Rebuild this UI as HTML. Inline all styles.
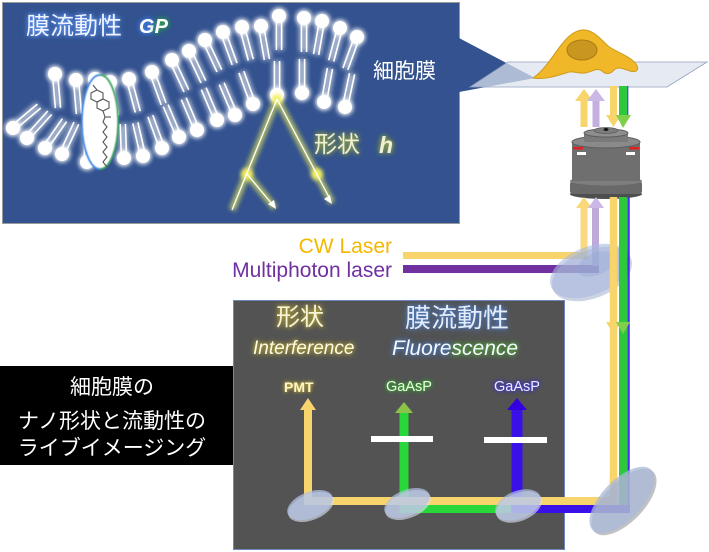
<!DOCTYPE html>
<html><head><meta charset="utf-8">
<style>
html,body{margin:0;padding:0;background:#fff;}
#c{position:relative;width:709px;height:552px;overflow:hidden;background:#fff;font-family:"Liberation Sans","Noto Sans CJK JP",sans-serif;}
svg{position:absolute;left:0;top:0;}
.t{position:absolute;white-space:nowrap;line-height:1;}
</style></head><body>
<div id="c">
<svg width="709" height="552" viewBox="0 0 709 552">
<defs>
<filter id="glow" x="-50%" y="-50%" width="200%" height="200%">
<feGaussianBlur in="SourceGraphic" stdDeviation="2.6" result="b"/>
<feMerge><feMergeNode in="b"/><feMergeNode in="b"/><feMergeNode in="SourceGraphic"/></feMerge>
</filter>
<filter id="soft" x="-50%" y="-50%" width="200%" height="200%">
<feGaussianBlur stdDeviation="2"/>
</filter>
<filter id="sb" x="-20%" y="-20%" width="140%" height="140%">
<feGaussianBlur stdDeviation="0.6"/>
</filter>
<g id="lp">
<line x1="-2.6" y1="5" x2="-2.6" y2="34" stroke="#fff" stroke-width="1.6"/>
<line x1="2.6" y1="5" x2="2.6" y2="34" stroke="#fff" stroke-width="1.6"/>
<circle r="7" fill="#fff"/>
</g>
</defs>

<!-- blue panel -->
<rect x="2.5" y="2.5" width="457" height="221" fill="#33528f" stroke="#9a9a9a" stroke-width="1"/>
<polygon points="459,38 535,78 459,92" fill="#33528f"/>

<!-- lipids -->
<g filter="url(#glow)">
<use href="#lp" transform="translate(55,74) rotate(-5)"/>
<use href="#lp" transform="translate(76,80) rotate(-5)"/>
<use href="#lp" transform="translate(95,79) rotate(-5)"/>
<use href="#lp" transform="translate(110,82) rotate(-10)"/>
<use href="#lp" transform="translate(129,79) rotate(-15)"/>
<use href="#lp" transform="translate(152,72) rotate(-20)"/>
<use href="#lp" transform="translate(172,60) rotate(-25)"/>
<use href="#lp" transform="translate(189,51) rotate(-25)"/>
<use href="#lp" transform="translate(205,40) rotate(-25)"/>
<use href="#lp" transform="translate(223,32) rotate(-20)"/>
<use href="#lp" transform="translate(242,27) rotate(-15)"/>
<use href="#lp" transform="translate(261,26) rotate(-10)"/>
<use href="#lp" transform="translate(279,16) rotate(0)"/>
<use href="#lp" transform="translate(304,18) rotate(0)"/>
<use href="#lp" transform="translate(322,21) rotate(10)"/>
<use href="#lp" transform="translate(340,28) rotate(15)"/>
<use href="#lp" transform="translate(357,37) rotate(20)"/>

<use href="#lp" transform="translate(13,128) rotate(-130)"/>
<use href="#lp" transform="translate(27,138) rotate(-138)"/>
<use href="#lp" transform="translate(45,148) rotate(-145)"/>
<use href="#lp" transform="translate(62,154) rotate(-155)"/>
<use href="#lp" transform="translate(87,162) rotate(180)"/>
<use href="#lp" transform="translate(124,158) rotate(178)"/>
<use href="#lp" transform="translate(143,156) rotate(167)"/>
<use href="#lp" transform="translate(162,148) rotate(160)"/>
<use href="#lp" transform="translate(179,137) rotate(157)"/>
<use href="#lp" transform="translate(197,130) rotate(157)"/>
<use href="#lp" transform="translate(217,120) rotate(157)"/>
<use href="#lp" transform="translate(235,115) rotate(157)"/>
<use href="#lp" transform="translate(253,104) rotate(160)"/>
<use href="#lp" transform="translate(277,95) rotate(180)"/>
<use href="#lp" transform="translate(302,93) rotate(180)"/>
<use href="#lp" transform="translate(324,102) rotate(190)"/>
<use href="#lp" transform="translate(345,107) rotate(192)"/>
</g>

<!-- probe ellipse -->
<g filter="url(#sb)">
<ellipse cx="100" cy="122" rx="18" ry="47" fill="#fff"/>
<path d="M100,75 A18,47 0 0 0 100,169" fill="none" stroke="#3f8fe8" stroke-width="2"/>
<path d="M100,75 A18,47 0 0 1 100,169" fill="none" stroke="#3aa860" stroke-width="2"/>
</g>
<g stroke="#555" stroke-width="1.1" fill="none">
<polygon points="97,90 103,93 103,99 97,102 91,99 91,93"/>
<polygon points="103,99 109,102 109,108 103,111 97,108 97,102"/>
<line x1="97" y1="90" x2="93" y2="85"/>
<line x1="103" y1="111" x2="105" y2="117"/>
<line x1="105" y1="117" x2="111" y2="117"/>
<polyline points="105,117 103,122 107,127 103,132 107,137 103,142 107,147 103,152 107,157 103,162 107,167"/>
</g>

<!-- horizontal substrate line -->
<line x1="8" y1="174" x2="435" y2="174" stroke="#fff" stroke-width="3.5" filter="url(#sb)"/>

<!-- interference rays -->
<g filter="url(#soft)" stroke="#dfe35a" stroke-width="7" opacity="0.7" fill="none">
<line x1="277" y1="99" x2="232" y2="210"/>
<line x1="277" y1="99" x2="332" y2="203"/>
<line x1="247" y1="174" x2="275" y2="208"/>
</g>
<circle cx="247" cy="174" r="6" fill="#f4f060" filter="url(#soft)"/>
<circle cx="317" cy="174" r="6" fill="#f4f060" filter="url(#soft)"/>
<circle cx="277" cy="99" r="5" fill="#f4f060" filter="url(#soft)"/>
<g stroke="#fff" stroke-width="1.3" fill="none">
<line x1="277" y1="99" x2="232" y2="210"/>
<line x1="277" y1="99" x2="330" y2="199"/>
<line x1="247" y1="174" x2="272" y2="204"/>
</g>
<polygon points="332,204 324,199 330,195" fill="#fff"/>
<polygon points="276,209 268,204 274,200" fill="#fff"/>

<!-- plane -->
<polygon points="508,62 707,62 667,87 470,87" fill="#dde3ee" fill-opacity="0.72" stroke="#90a0bf" stroke-width="0.8"/>
<!-- cell -->
<path d="M533,78 C545,70 553,55 562,44 C568,36 574,31 582,30 C592,29 600,38 608,46 C618,53 630,56 636,64 C640,70 636,73 630,71 C624,69 618,66 614,70 C611,74 606,75 602,71 C597,67 592,72 585,73 C578,74 572,70 566,73 C556,76 545,80 533,78 Z" fill="#f0b828" stroke="#cf9a1c" stroke-width="1"/>
<ellipse cx="582" cy="50" rx="15" ry="10" fill="#c99620" stroke="#a67a14" stroke-width="1"/>

<!-- beams above objective -->
<line x1="584" y1="127" x2="584" y2="100" stroke="#f8d46c" stroke-width="7"/>
<polygon points="575,101 593,101 584,89" fill="#f8d46c"/>
<line x1="596" y1="127" x2="596" y2="100" stroke="#c5afe0" stroke-width="7"/>
<polygon points="587,101 605,101 596,89" fill="#cbb8e6"/>
<line x1="613.5" y1="86" x2="613.5" y2="116" stroke="#f8d46c" stroke-width="7"/>
<line x1="623" y1="86" x2="623" y2="116" stroke="#2ec83c" stroke-width="8"/>
<line x1="627.7" y1="86" x2="627.7" y2="116" stroke="#5050e8" stroke-width="1.4"/>
<polygon points="606,115 621,115 613.5,127" fill="#f8d46c"/>
<polygon points="616,115 631,115 623,128" fill="#7fcf4a"/>

<!-- objective -->
<ellipse cx="606" cy="194" rx="36" ry="5" fill="#4e4e4e"/>
<rect x="570" y="181" width="72" height="13" rx="3" fill="#696969"/>
<ellipse cx="606" cy="181" rx="36" ry="4.5" fill="#7e7e7e"/>
<rect x="572" y="142" width="68" height="39" fill="#6f6f6f"/>
<ellipse cx="606" cy="142" rx="34" ry="6" fill="#8a8a8a" stroke="#5c5c5c" stroke-width="1"/>
<rect x="584" y="133" width="44" height="9" fill="#7a7a7a"/>
<ellipse cx="606" cy="133" rx="22" ry="4" fill="#8e8e8e" stroke="#5c5c5c" stroke-width="1"/>
<ellipse cx="606" cy="130.5" rx="12" ry="3" fill="#7c7c7c" stroke="#5e5e5e" stroke-width="0.8"/>
<ellipse cx="606" cy="129.5" rx="2.5" ry="1.5" fill="#111"/>
<rect x="573" y="147" width="10" height="2.5" fill="#e02020"/>
<rect x="629" y="147" width="10" height="2.5" fill="#e02020"/>
<rect x="577" y="152" width="9" height="3" fill="#fff"/>
<rect x="626" y="152" width="9" height="3" fill="#fff"/>

<!-- dark panel -->
<rect x="233.5" y="300.5" width="331" height="249" fill="#535353" stroke="#6f86b8" stroke-width="1"/>
<!-- black box -->
<rect x="0" y="366" width="233" height="99" fill="#000"/>

<!-- excitation lasers -->
<line x1="403" y1="255.5" x2="587" y2="255.5" stroke="#f8d46c" stroke-width="7"/>
<line x1="584" y1="258" x2="584" y2="208" stroke="#f8d46c" stroke-width="7" opacity="0.85"/>
<polygon points="576,208 592,208 584,197" fill="#f8d46c" opacity="0.9"/>
<line x1="403" y1="269" x2="599" y2="269" stroke="#7030a0" stroke-width="8"/>
<line x1="595.5" y1="266" x2="595.5" y2="208" stroke="#b9a0d8" stroke-width="7" opacity="0.9"/>
<polygon points="588,208 604,208 596,197" fill="#cbb8e6"/>
<!-- upper mirror -->
<ellipse cx="592" cy="274" rx="42" ry="24" transform="rotate(-22 592 274)" fill="#9aa8c8" opacity="0.5"/>
<ellipse cx="590" cy="271" rx="42" ry="24" transform="rotate(-22 590 271)" fill="#a9b9de" opacity="0.6"/>
<ellipse cx="596" cy="264" rx="20" ry="11" transform="rotate(-22 596 264)" fill="#8fa2d0" opacity="0.35"/>

<!-- emission down beams -->
<line x1="628.5" y1="197" x2="628.5" y2="509" stroke="#4a2cf0" stroke-width="2.5"/>
<line x1="623" y1="197" x2="623" y2="509" stroke="#2ec83c" stroke-width="8"/>
<line x1="613.5" y1="197" x2="613.5" y2="505" stroke="#f8d46c" stroke-width="7.5"/>
<polygon points="606,322 621,322 613.5,334" fill="#f8d46c"/>
<polygon points="616,322 630,322 623,334" fill="#7fcf4a"/>

<!-- detection paths -->
<line x1="511" y1="509" x2="630" y2="509" stroke="#3a10e8" stroke-width="8"/>
<line x1="517" y1="513" x2="517" y2="409" stroke="#3a10e8" stroke-width="11"/>
<polygon points="507,410 527,410 517,398" fill="#3300e0"/>
<line x1="400" y1="509" x2="511" y2="509" stroke="#28d83a" stroke-width="8"/>
<line x1="404" y1="513" x2="404" y2="412" stroke="#28d83a" stroke-width="9"/>
<polygon points="395,413 413,413 404,402" fill="#8bc34a"/>
<line x1="304" y1="501" x2="617.5" y2="501" stroke="#f8d46c" stroke-width="8"/>
<line x1="308" y1="505" x2="308" y2="409" stroke="#f8d46c" stroke-width="8"/>
<polygon points="300,410 316,410 308,398" fill="#f8d46c"/>

<!-- filters -->
<rect x="371" y="436" width="62" height="6" fill="#fff"/>
<rect x="484" y="437" width="63" height="6" fill="#fff"/>

<!-- mirrors in panel -->
<ellipse cx="311" cy="507" rx="24" ry="13" transform="rotate(-22 311 507)" fill="#dfe6f4" opacity="0.6"/>
<ellipse cx="310" cy="505" rx="24" ry="13" transform="rotate(-22 310 505)" fill="#b3c2e2" opacity="0.75"/>
<ellipse cx="408" cy="505" rx="24" ry="13" transform="rotate(-22 408 505)" fill="#dfe6f4" opacity="0.6"/>
<ellipse cx="407" cy="503" rx="24" ry="13" transform="rotate(-22 407 503)" fill="#b3c2e2" opacity="0.7"/>
<ellipse cx="519" cy="507" rx="24" ry="14" transform="rotate(-22 519 507)" fill="#dfe6f4" opacity="0.6"/>
<ellipse cx="518" cy="505" rx="24" ry="14" transform="rotate(-22 518 505)" fill="#b3c2e2" opacity="0.7"/>
<!-- bottom right mirror -->
<ellipse cx="624" cy="502" rx="42" ry="20" transform="rotate(-46 624 502)" fill="#9a9a9a" opacity="0.6"/>
<ellipse cx="622" cy="500" rx="42" ry="20" transform="rotate(-46 622 500)" fill="#aab8da" opacity="0.75"/>
</svg>

<!-- texts -->
<div class="t" style="left:26px;top:15px;font-size:24px;color:#f0f4ff;text-shadow:0 0 4px #6aa0ff,0 0 7px #4a80e0;">膜流動性</div>
<div class="t" style="left:139px;top:17px;font-size:20px;font-weight:bold;font-style:italic;color:#fff;"><span style="text-shadow:0 0 4px #4a90ff,0 0 7px #3a70e0;">G</span><span style="text-shadow:0 0 4px #30b050,0 0 7px #209040;">P</span></div>
<div class="t" style="left:373px;top:61px;font-size:21px;color:#fff;">細胞膜</div>
<div class="t" style="left:314px;top:133px;font-size:23px;color:#eef0d8;text-shadow:0 0 4px #a8b840,0 0 7px #889a30;">形状</div>
<div class="t" style="left:379px;top:134px;font-size:23px;font-weight:bold;font-style:italic;color:#eef0d8;text-shadow:0 0 4px #a8b840,0 0 7px #889a30;">h</div>

<div class="t" style="right:317px;top:236px;font-size:21px;color:#f5b800;">CW Laser</div>
<div class="t" style="right:317px;top:260px;font-size:21px;color:#7030a0;">Multiphoton laser</div>

<div class="t" style="left:0;width:224px;text-align:center;top:377px;font-size:21px;color:#fff;">細胞膜の</div>
<div class="t" style="left:0;width:224px;text-align:center;top:411px;font-size:21px;color:#fff;">ナノ形状と流動性の</div>
<div class="t" style="left:0;width:224px;text-align:center;top:438px;font-size:21px;color:#fff;">ライブイメージング</div>

<div class="t" style="left:276px;top:306px;font-size:24px;color:#f8f4d8;text-shadow:0 0 4px #c8b840,0 0 7px #a89a30;">形状</div>
<div class="t" style="left:253px;top:339px;font-size:19px;font-style:italic;color:#fffbe6;text-shadow:0 0 4px #c8b840,0 0 6px #a89a30;">Interference</div>
<div class="t" style="left:405px;top:305px;font-size:26px;color:#e4ecf8;text-shadow:0 0 4px #5a88d0,0 0 7px #4070b8;">膜流動性</div>
<div class="t" style="left:392px;top:338px;font-size:21px;font-style:italic;color:#f4f8ff;"><span style="text-shadow:0 0 4px #5a88d0,0 0 7px #4070b8;">Fluore</span><span style="text-shadow:0 0 4px #60b840,0 0 7px #40a030;">scence</span></div>
<div class="t" style="left:284px;top:380px;font-size:14px;font-weight:bold;color:#fff5c8;text-shadow:0 0 3px #c8b040,0 0 5px #a89a30;">PMT</div>
<div class="t" style="left:386px;top:380px;font-size:14.5px;color:#eaffda;text-shadow:0 0 3px #40c040,0 0 5px #30a030;">GaAsP</div>
<div class="t" style="left:494px;top:380px;font-size:14.5px;color:#eceaff;text-shadow:0 0 3px #4a40f0,0 0 5px #3020d0;">GaAsP</div>
</div>
</body></html>
